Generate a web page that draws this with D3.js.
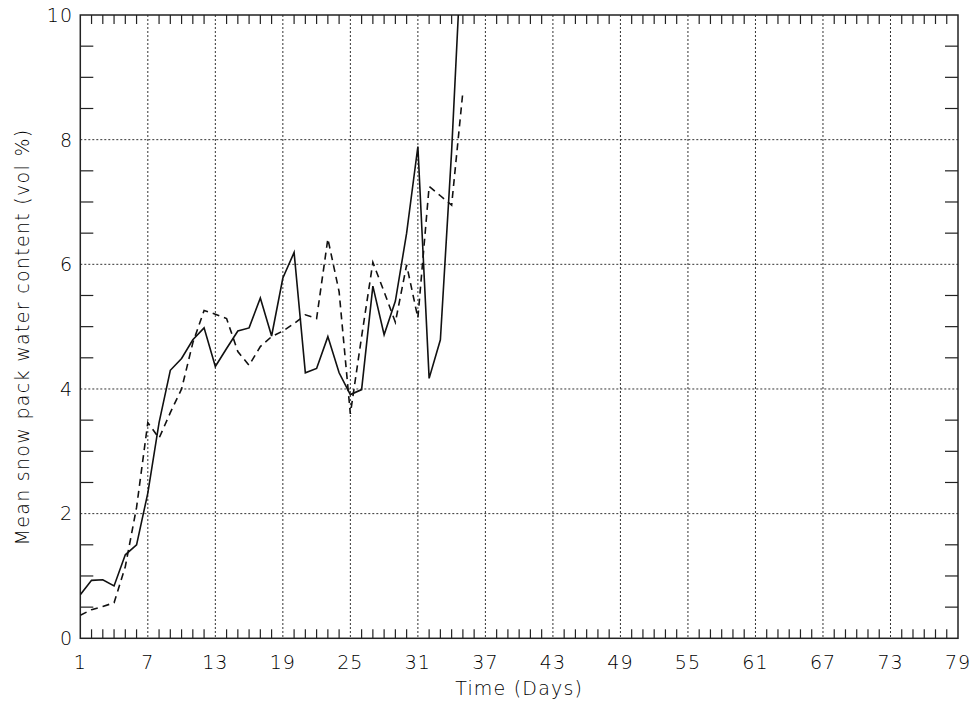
<!DOCTYPE html>
<html>
<head>
<meta charset="utf-8">
<script src="https://cdn.jsdelivr.net/npm/d3@7"></script>
<style>
body { margin: 0; background: #fff; }
text { font-family: "DejaVu Sans", sans-serif; fill: #000; }
</style>
</head>
<body>
<svg id="chart" width="973" height="703"></svg>
<script>
const days = d3.range(1, 36);
const solidValues = [0.70, 0.93, 0.94, 0.84, 1.34, 1.50, 2.33, 3.46, 4.30, 4.49,
  4.79, 4.98, 4.36, 4.65, 4.93, 4.98, 5.46, 4.85, 5.78, 6.19,
  4.26, 4.33, 4.84, 4.26, 3.91, 3.99, 5.65, 4.87, 5.41, 6.50,
  7.89, 4.17, 4.79, 7.82, 11.5];
const dashedValues = [0.37, 0.46, 0.51, 0.57, 1.15, 2.10, 3.46, 3.21, 3.62, 4.00,
  4.74, 5.26, 5.20, 5.13, 4.60, 4.38, 4.68, 4.84, 4.93, 5.05,
  5.19, 5.13, 6.41, 5.56, 3.60, 4.84, 6.03, 5.56, 5.07, 5.99,
  5.14, 7.25, 7.10, 6.95, 8.77];
const xTickLabels = ["1","7","13","19","25","31","37","43","49","55","61","67","73","79"];
const yTickLabels = ["0","2","4","6","8","10"];

const svg = d3.select("#chart");
const pL = 80.3, pR = 958, pT = 15, pB = 638.3;
const x = d3.scaleLinear().domain([1, 79]).range([pL, pR]);
const y = d3.scaleLinear().domain([0, 10]).range([pB, pT]);

svg.append("defs").append("clipPath").attr("id", "clip")
  .append("rect").attr("x", pL).attr("y", pT)
  .attr("width", pR - pL).attr("height", pB - pT);

const xMajor = xTickLabels.map(Number);
const yMajor = yTickLabels.map(Number);

// grid lines
const grid = svg.append("g").attr("stroke", "#333").attr("stroke-width", 1)
  .attr("stroke-dasharray", "2,2");
xMajor.slice(1, -1).forEach(v => {
  grid.append("line").attr("x1", x(v)).attr("x2", x(v)).attr("y1", pT).attr("y2", pB);
});
yMajor.slice(1, -1).forEach(v => {
  grid.append("line").attr("y1", y(v)).attr("y2", y(v)).attr("x1", pL).attr("x2", pR);
});

// minor ticks
const ticks = svg.append("g").attr("stroke", "#222").attr("stroke-width", 1.2);
d3.range(1, 80).filter(v => !xMajor.includes(v)).forEach(v => {
  ticks.append("line").attr("x1", x(v)).attr("x2", x(v)).attr("y1", pB).attr("y2", pB - 9);
  ticks.append("line").attr("x1", x(v)).attr("x2", x(v)).attr("y1", pT).attr("y2", pT + 9);
});
d3.range(0, 10.01, 0.5).filter(v => !yMajor.includes(v)).forEach(v => {
  ticks.append("line").attr("y1", y(v)).attr("y2", y(v)).attr("x1", pL).attr("x2", pL + 13);
  ticks.append("line").attr("y1", y(v)).attr("y2", y(v)).attr("x1", pR).attr("x2", pR - 13);
});

// frame
svg.append("rect").attr("x", pL).attr("y", pT)
  .attr("width", pR - pL).attr("height", pB - pT)
  .attr("fill", "none").attr("stroke", "#222").attr("stroke-width", 1.5);

// tick labels
svg.append("g").selectAll("text").data(xTickLabels).join("text")
  .attr("x", d => x(+d)).attr("y", 669)
  .attr("text-anchor", "middle").attr("font-size", 19).attr("font-weight", 300)
  .attr("letter-spacing", 1)
  .text(d => d);
svg.append("g").selectAll("text").data(yTickLabels).join("text")
  .attr("x", 73).attr("y", d => y(+d)).attr("dy", "0.36em")
  .attr("text-anchor", "end").attr("font-size", 19).attr("font-weight", 300)
  .attr("letter-spacing", 1)
  .text(d => d);

// axis titles
svg.append("text").attr("x", (pL + pR) / 2).attr("y", 695)
  .attr("text-anchor", "middle").attr("font-size", 19).attr("font-weight", 300)
  .attr("letter-spacing", 1.2)
  .text("Time (Days)");
svg.append("text").attr("transform", "translate(29,337) rotate(-90)")
  .attr("text-anchor", "middle").attr("font-size", 19).attr("font-weight", 300)
  .attr("letter-spacing", 1.3)
  .text("Mean snow pack water content (vol %)");

// lines
const line = vals => d3.line().x((d, i) => x(days[i])).y(d => y(d))(vals);
const plot = svg.append("g").attr("clip-path", "url(#clip)");
plot.append("path").attr("d", line(solidValues))
  .attr("fill", "none").attr("stroke", "#111").attr("stroke-width", 1.6);
plot.append("path").attr("d", line(dashedValues))
  .attr("fill", "none").attr("stroke", "#111").attr("stroke-width", 1.6)
  .attr("stroke-dasharray", "7,5");
</script>
</body>
</html>
